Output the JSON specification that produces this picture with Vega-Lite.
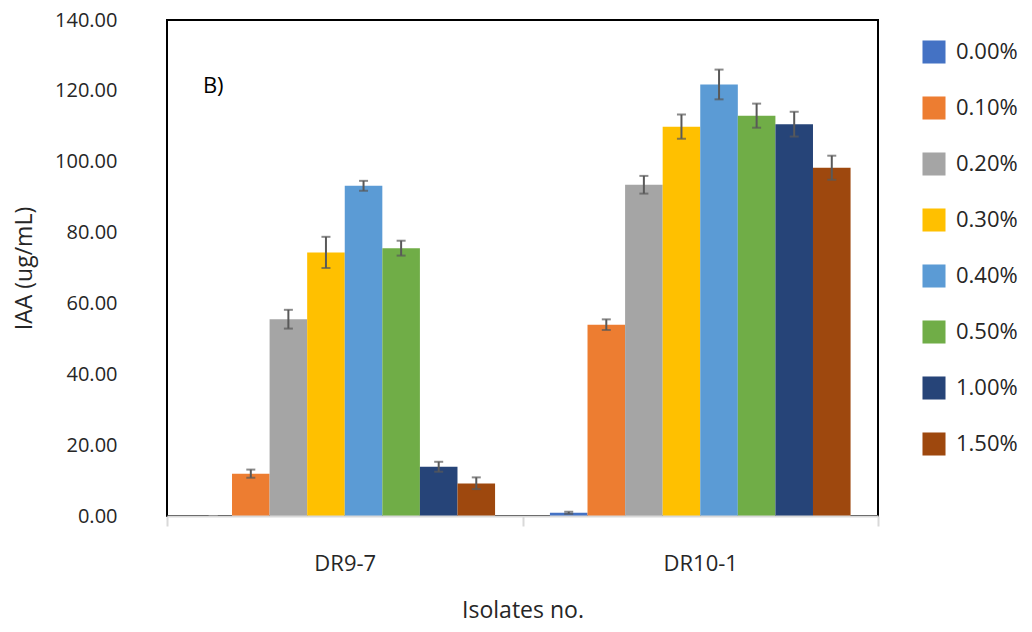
{
  "$schema": "https://vega.github.io/schema/vega-lite/v6.json",
  "autosize": "none",
  "padding": {"left": 167, "top": 20, "right": 154, "bottom": 116},
  "width": 711,
  "height": 496,
  "background": "white",
  "config": {
    "font": "Open Sans",
    "view": {"stroke": "black", "strokeWidth": 2}
  },
  "data": {
    "values": [
      {"isolate": "DR9-7", "conc": "0.00%", "value": 0, "lo": 0, "hi": 0},
      {"isolate": "DR9-7", "conc": "0.10%", "value": 11.9, "lo": 10.8, "hi": 13.1},
      {"isolate": "DR9-7", "conc": "0.20%", "value": 55.5, "lo": 52.9, "hi": 58.2},
      {"isolate": "DR9-7", "conc": "0.30%", "value": 74.4, "lo": 70.0, "hi": 78.8},
      {"isolate": "DR9-7", "conc": "0.40%", "value": 93.2, "lo": 91.8, "hi": 94.6},
      {"isolate": "DR9-7", "conc": "0.50%", "value": 75.6, "lo": 73.5, "hi": 77.7},
      {"isolate": "DR9-7", "conc": "1.00%", "value": 13.9, "lo": 12.5, "hi": 15.3},
      {"isolate": "DR9-7", "conc": "1.50%", "value": 9.2, "lo": 7.6, "hi": 10.9},
      {"isolate": "DR10-1", "conc": "0.00%", "value": 0.9, "lo": 0.6, "hi": 1.2},
      {"isolate": "DR10-1", "conc": "0.10%", "value": 54.0, "lo": 52.5, "hi": 55.5},
      {"isolate": "DR10-1", "conc": "0.20%", "value": 93.5, "lo": 91.0, "hi": 96.0},
      {"isolate": "DR10-1", "conc": "0.30%", "value": 109.9, "lo": 106.5, "hi": 113.3},
      {"isolate": "DR10-1", "conc": "0.40%", "value": 121.8, "lo": 117.6, "hi": 126.0},
      {"isolate": "DR10-1", "conc": "0.50%", "value": 113.0, "lo": 109.6, "hi": 116.4},
      {"isolate": "DR10-1", "conc": "1.00%", "value": 110.6, "lo": 107.1, "hi": 114.1},
      {"isolate": "DR10-1", "conc": "1.50%", "value": 98.3, "lo": 94.9, "hi": 101.7}
    ]
  },
  "encoding": {
    "x": {
      "field": "isolate",
      "type": "nominal",
      "sort": ["DR9-7", "DR10-1"],
      "scale": {"paddingInner": 0, "paddingOuter": 0},
      "axis": {
        "title": "Isolates no.",
        "titleFontSize": 23,
        "titleFontWeight": "normal",
        "titleColor": "#262626",
        "titlePadding": 25,
        "labelAngle": 0,
        "labelFontSize": 22,
        "labelColor": "#262626",
        "labelPadding": 27,
        "domainColor": "#d9d9d9",
        "domainWidth": 2,
        "ticks": true,
        "tickBand": "extent",
        "tickColor": "#d9d9d9",
        "tickWidth": 2,
        "tickSize": 10,
        "zindex": 1
      }
    },
    "xOffset": {
      "field": "conc",
      "type": "nominal",
      "sort": ["0.00%", "0.10%", "0.20%", "0.30%", "0.40%", "0.50%", "1.00%", "1.50%"],
      "scale": {"paddingInner": 0, "paddingOuter": 0.73}
    }
  },
  "layer": [
    {
      "mark": {"type": "bar"},
      "encoding": {
        "y": {
          "field": "value",
          "type": "quantitative",
          "scale": {"domain": [0, 140], "nice": false},
          "axis": {
            "title": "IAA (ug/mL)",
            "titleFontSize": 23,
            "titleFontWeight": "normal",
            "titleColor": "#262626",
            "titlePadding": 18,
            "values": [0, 20, 40, 60, 80, 100, 120, 140],
            "format": ".2f",
            "labelFontSize": 20,
            "labelColor": "#262626",
            "labelPadding": 50,
            "domain": false,
            "ticks": false,
            "grid": false
          }
        },
        "color": {
          "field": "conc",
          "type": "nominal",
          "sort": ["0.00%", "0.10%", "0.20%", "0.30%", "0.40%", "0.50%", "1.00%", "1.50%"],
          "scale": {
            "domain": ["0.00%", "0.10%", "0.20%", "0.30%", "0.40%", "0.50%", "1.00%", "1.50%"],
            "range": ["#4472C4", "#ED7D31", "#A5A5A5", "#FFC000", "#5B9BD5", "#70AD47", "#264478", "#9E480E"]
          },
          "legend": {
            "title": null,
            "orient": "none",
            "legendX": 755,
            "legendY": 20,
            "symbolType": "square",
            "symbolSize": 530,
            "symbolStrokeWidth": 0,
            "symbolOpacity": 1,
            "labelFontSize": 22,
            "labelColor": "#262626",
            "labelOffset": 10,
            "rowPadding": 32
          }
        }
      }
    },
    {
      "mark": {"type": "rule", "color": "#595959", "strokeWidth": 2},
      "encoding": {
        "y": {"field": "lo", "type": "quantitative"},
        "y2": {"field": "hi"}
      }
    },
    {
      "mark": {"type": "tick", "color": "#595959", "thickness": 2, "size": 9},
      "encoding": {
        "y": {"field": "lo", "type": "quantitative"}
      }
    },
    {
      "mark": {"type": "tick", "color": "#595959", "thickness": 2, "size": 9},
      "encoding": {
        "y": {"field": "hi", "type": "quantitative"}
      }
    },
    {
      "data": {"values": [{"label": "B)", "isolate": "DR9-7", "conc": "0.00%", "pos": 121.5}]},
      "mark": {"type": "text", "fontSize": 22, "color": "black", "align": "center", "baseline": "middle"},
      "encoding": {
        "y": {"field": "pos", "type": "quantitative"},
        "text": {"field": "label"}
      }
    }
  ]
}
